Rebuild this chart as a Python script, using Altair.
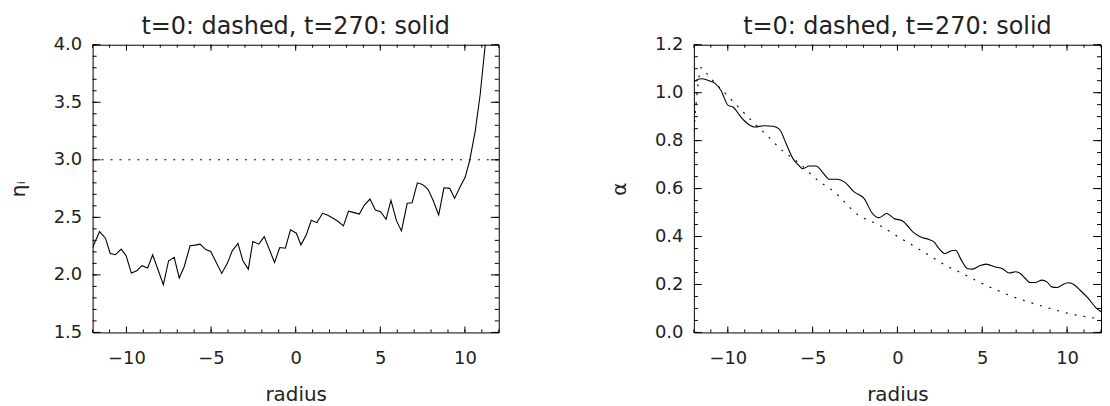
import altair as alt
import pandas as pd

# ---------------- data ----------------
eta_x = [-12.0, -11.59, -11.24, -10.96, -10.65, -10.31, -10.02, -9.71, -9.39, -9.08,
         -8.75, -8.45, -7.82, -7.51, -7.18, -6.88, -6.59, -6.24, -5.94, -5.65,
         -5.31, -5.02, -4.37, -4.04, -3.75, -3.41, -3.12, -2.80, -2.53, -2.18,
         -1.86, -1.25, -0.94, -0.61, -0.31, 0.04, 0.31, 0.63, 0.92, 1.25,
         1.59, 1.90, 2.19, 2.49, 2.82, 3.12, 3.45, 3.76, 4.06, 4.39,
         4.71, 5.02, 5.34, 5.63, 5.96, 6.25, 6.59, 6.88, 7.19, 7.49,
         7.82, 8.12, 8.45, 8.76, 9.10, 9.39, 9.69, 10.02, 10.28, 10.61,
         10.90, 11.20, 11.50]
eta_y = [2.238, 2.376, 2.319, 2.186, 2.175, 2.224, 2.166, 2.016, 2.036, 2.08,
         2.06, 2.175, 1.915, 2.123, 2.152, 1.973, 2.071, 2.253, 2.259, 2.267,
         2.22, 2.203, 2.013, 2.10, 2.209, 2.273, 2.123, 2.05, 2.29, 2.267,
         2.333, 2.108, 2.238, 2.232, 2.391, 2.362, 2.261, 2.348, 2.475, 2.454,
         2.535, 2.518, 2.495, 2.466, 2.426, 2.553, 2.541, 2.529, 2.607, 2.659,
         2.564, 2.549, 2.483, 2.648, 2.469, 2.382, 2.622, 2.627, 2.80, 2.786,
         2.743, 2.648, 2.521, 2.757, 2.752, 2.665, 2.757, 2.85, 2.994, 3.25,
         3.565, 4.0, 4.6]
eta0_x = [-12.0, 12.0]
eta0_y = [3.0, 3.0]

alpha_x = [-12.0, -11.55, -11.15, -10.77, -10.41, -9.98, -9.69, -9.30, -9.01, -8.42,
           -7.83, -7.34, -6.95, -6.56, -6.16, -5.87, -5.58, -5.19, -4.80, -4.40,
           -4.01, -3.52, -3.13, -2.55, -1.96, -1.47, -1.08, -0.63, -0.20, 0.30,
           0.98, 1.37, 1.86, 2.15, 2.45, 2.80, 3.13, 3.43, 3.72, 4.11,
           4.44, 4.79, 5.23, 5.77, 6.17, 6.60, 6.95, 7.24, 7.54, 7.83,
           8.12, 8.52, 8.81, 9.10, 9.40, 9.69, 10.04, 10.37, 10.77, 11.25,
           11.74, 12.0]
alpha_y = [1.048, 1.058, 1.051, 1.04, 1.01, 0.947, 0.94, 0.905, 0.882, 0.857,
           0.862, 0.86, 0.847, 0.787, 0.725, 0.701, 0.683, 0.694, 0.694, 0.667,
           0.639, 0.639, 0.628, 0.586, 0.558, 0.496, 0.479, 0.496, 0.475, 0.465,
           0.415, 0.398, 0.3875, 0.3775, 0.35, 0.329, 0.34, 0.343, 0.308, 0.267,
           0.264, 0.276, 0.285, 0.273, 0.267, 0.248, 0.253, 0.246, 0.225, 0.208,
           0.208, 0.218, 0.211, 0.19, 0.1875, 0.197, 0.207, 0.201, 0.176, 0.142,
           0.10, 0.086]
alpha0_x = [-12.0, -11.55, -11.15, -9.98, -8.42, -7.63, -6.85, -5.87, -4.70, -3.72,
            -2.35, -0.98, -0.10, 0.88, 1.86, 2.84, 3.82, 4.79, 5.77, 6.85,
            7.93, 9.00, 10.08, 11.16, 12.0]
alpha0_y = [0.84, 1.105, 1.072, 0.985, 0.871, 0.818, 0.7625, 0.711, 0.635, 0.586,
            0.492, 0.444, 0.405, 0.364, 0.322, 0.28, 0.246, 0.211, 0.179, 0.148,
            0.123, 0.10, 0.079, 0.065, 0.056]

x_major = [-10, -5, 0, 5, 10]
x_minor = list(range(-12, 13))
eta_major = [1.5, 2.0, 2.5, 3.0, 3.5, 4.0]
eta_minor = [round(1.5 + 0.1 * i, 2) for i in range(26)]
alpha_major = [0.0, 0.2, 0.4, 0.6, 0.8, 1.0, 1.2]
alpha_minor = [round(0.05 * i, 2) for i in range(25)]

title_text = "t=0: dashed, t=270: solid"
FONT = "DejaVu Sans"
TXT = "#222222"
H = 289


def panel(W, xs, ys, x0s, y0s, ydom, ymaj, ymin, ytitle, yfmt, interp, title_x):
    xscale = alt.Scale(domain=[-12, 12], nice=False, zero=False)
    yscale = alt.Scale(domain=ydom, nice=False, zero=False)
    df = pd.DataFrame({"x": xs, "y": ys})
    df0 = pd.DataFrame({"x": x0s, "y": y0s})

    main = alt.Chart(df).mark_line(color="black", strokeWidth=1.1, clip=True,
                                   interpolate=interp).encode(
        x=alt.X("x:Q", scale=xscale,
                axis=alt.Axis(values=x_major, format="d", title="radius",
                              grid=False, ticks=False, domain=False, tickSize=0,
                              labelPadding=17, labelFontSize=18, labelFont=FONT,
                              labelColor=TXT, titleFont=FONT, titleFontSize=20,
                              titleFontWeight="normal", titleColor=TXT,
                              titleX=W / 2, titleY=68, titleAlign="center",
                              titleBaseline="alphabetic")),
        y=alt.Y("y:Q", scale=yscale,
                axis=alt.Axis(values=ymaj, format=yfmt, title=ytitle,
                              grid=False, ticks=False, domain=False, tickSize=0,
                              labelPadding=11, labelFontSize=18, labelFont=FONT,
                              labelColor=TXT, titleFont=FONT, titleFontSize=20,
                              titleFontWeight="normal", titleColor=TXT,
                              titleAngle=-90, titleX=title_x, titleY=H / 2,
                              titleAlign="center", titleBaseline="middle")),
    )
    dotted = alt.Chart(df0).mark_line(color="black", strokeWidth=1.1,
                                      strokeDash=[2, 7], clip=True,
                                      interpolate=interp).encode(
        x=alt.X("x:Q", scale=xscale), y=alt.Y("y:Q", scale=yscale))

    title = alt.Chart(pd.DataFrame({"t": [title_text]})).mark_text(
        font=FONT, fontSize=24, color=TXT, align="center", baseline="alphabetic"
    ).encode(text="t:N", x=alt.value(W / 2), y=alt.value(-11))

    layers = [main, dotted, title]

    def xt(vals, L):
        d = pd.DataFrame({"v": vals})
        b = alt.Chart(d).mark_rule(color="black", strokeWidth=1).encode(
            x=alt.X("v:Q", scale=xscale), y=alt.value(H), y2=alt.value(H - L))
        t = alt.Chart(d).mark_rule(color="black", strokeWidth=1).encode(
            x=alt.X("v:Q", scale=xscale), y=alt.value(0), y2=alt.value(L))
        return [b, t]

    def yt(vals, L):
        d = pd.DataFrame({"v": vals})
        l = alt.Chart(d).mark_rule(color="black", strokeWidth=1).encode(
            y=alt.Y("v:Q", scale=yscale), x=alt.value(0), x2=alt.value(L))
        r = alt.Chart(d).mark_rule(color="black", strokeWidth=1).encode(
            y=alt.Y("v:Q", scale=yscale), x=alt.value(W), x2=alt.value(W - L))
        return [l, r]

    layers += xt(x_minor, 3) + xt(x_major, 6) + yt(ymin, 4) + yt(ymaj, 8)

    return alt.layer(*layers).properties(width=W, height=H)


left = panel(408, eta_x, eta_y, eta0_x, eta0_y, [1.5, 4.0], eta_major, eta_minor,
             "ηᵢ", ".1f", "linear", -74)
right = panel(409, alpha_x, alpha_y, alpha0_x, alpha0_y, [0.0, 1.2], alpha_major,
              alpha_minor, "α", ".1f", "monotone", -75)

chart = alt.hconcat(left, right, spacing=196, bounds="flush").properties(
    padding={"left": 0, "top": 5, "right": 0, "bottom": 0},
    background="white",
).configure_view(stroke="black", strokeWidth=1)

chart.save("out.html", embed_options={"renderer": "svg", "actions": False})
